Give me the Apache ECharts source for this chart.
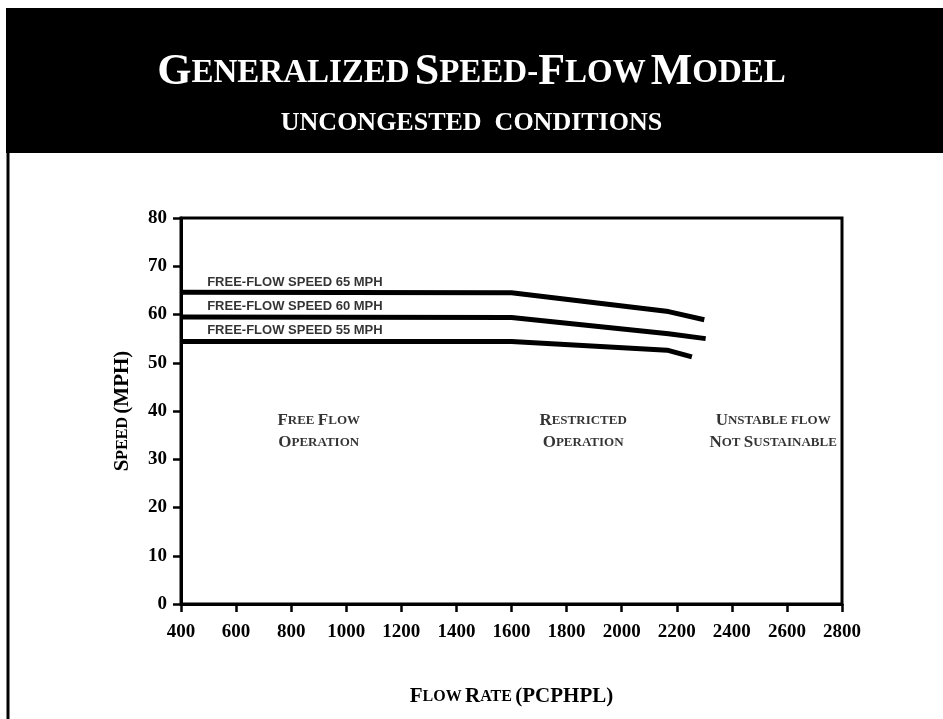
<!DOCTYPE html>
<html>
<head>
<meta charset="utf-8">
<script src="https://cdn.jsdelivr.net/npm/echarts@6/dist/echarts.min.js"></script>
<style>
  html, body { margin: 0; padding: 0; background: #fff; }
  #chart { width: 943px; height: 719px; }
</style>
</head>
<body>
<div id="chart"></div>
<script>
// axis ranges (flow in pcphpl, speed in mph)
const flowMin = 400, flowMax = 2800, flowStep = 200
const speedMin = 0, speedMax = 80, speedStep = 10

// speed-flow curves: [flow, speed]
const speed65 = [[400, 64.6], [1600, 64.5], [2170, 60.6], [2300, 58.9]]
const speed60 = [[400, 59.5], [1600, 59.4], [2170, 56.0], [2305, 55.0]]
const speed55 = [[400, 54.4], [1600, 54.4], [2165, 52.6], [2255, 51.2]]

// curve captions, placed above the flat part of each line
const curveLabels = ['FREE-FLOW SPEED 65 MPH', 'FREE-FLOW SPEED 60 MPH', 'FREE-FLOW SPEED 55 MPH']
const curveLabelPos = [[495, 66.7], [495, 61.7], [495, 56.7]]

// operating regions
const regionLabels = [
	'{b|F}{s|REE} {b|F}{s|LOW}\n{b|O}{s|PERATION}',
	'{b|R}{s|ESTRICTED}\n{b|O}{s|PERATION}',
	'{b|U}{s|NSTABLE FLOW}\n{b|N}{s|OT} {b|S}{s|USTAINABLE}'
]
const regionPos = [[900, 35.7], [1860, 35.7], [2550, 35.7]]

const serif = '"Liberation Serif", "DejaVu Serif", serif'
const smallCaps = {
	b: { fontFamily: serif, fontWeight: 'bold', fontSize: 17, color: '#000' },
	s: { fontFamily: serif, fontWeight: 'bold', fontSize: 13, color: '#000' }
}
const axisTitleCaps = {
	b: { fontFamily: serif, fontWeight: 'bold', fontSize: 21, color: '#000' },
	s: { fontFamily: serif, fontWeight: 'bold', fontSize: 16, color: '#000' }
}

const chart = echarts.init(document.getElementById('chart'))

const lineSeries = (name, data) => ({
	name: name,
	type: 'line',
	data: data,
	symbol: 'none',
	silent: true,
	lineStyle: { color: '#000', width: 5 }
})

const option = {
	backgroundColor: '#fff',
	animation: false,
	title: [
		{
			text: '{b|G}{s|ENERALIZED} {b|S}{s|PEED-}{b|F}{s|LOW} {b|M}{s|ODEL}',
			left: 'center',
			top: 46,
			textStyle: {
				rich: {
					b: { fontFamily: serif, fontSize: 44, color: '#fff' },
					s: { fontFamily: serif, fontSize: 33, color: '#fff' }
				}
			}
		},
		{
			text: 'UNCONGESTED  CONDITIONS',
			left: 'center',
			top: 105,
			textStyle: { fontFamily: serif, fontSize: 26, fontWeight: 'bold', color: '#fff' }
		}
	],
	graphic: [
		{ type: 'rect', z: -1, shape: { x: 6, y: 8, width: 940, height: 145 }, style: { fill: '#000' } },
		{ type: 'line', shape: { x1: 8, y1: 150, x2: 8, y2: 719 }, style: { stroke: '#000', lineWidth: 3 } }
	],
	grid: {
		left: 181,
		right: 101,
		top: 218,
		bottom: 115,
		show: true,
		borderColor: '#000',
		borderWidth: 3
	},
	xAxis: {
		type: 'value',
		min: flowMin,
		max: flowMax,
		interval: flowStep,
		name: '{b|F}{s|LOW} {b|R}{s|ATE} {b|(PCPHPL)}',
		nameLocation: 'middle',
		nameGap: 82,
		nameTextStyle: { rich: axisTitleCaps },
		axisLine: { lineStyle: { color: '#000', width: 3 } },
		axisTick: { length: 8, lineStyle: { color: '#000', width: 2.5 } },
		axisLabel: { color: '#000', fontFamily: serif, fontWeight: 'bold', fontSize: 19, margin: 19, formatter: (v) => String(v) },
		splitLine: { show: false }
	},
	yAxis: {
		type: 'value',
		min: speedMin,
		max: speedMax,
		interval: speedStep,
		name: '{b|S}{s|PEED} {b|(MPH)}',
		nameLocation: 'middle',
		nameGap: 48,
		nameRotate: 90,
		nameTextStyle: { rich: axisTitleCaps },
		axisLine: { show: true, lineStyle: { color: '#000', width: 3 } },
		axisTick: { show: true, length: 8, lineStyle: { color: '#000', width: 2.5 } },
		axisLabel: { color: '#000', fontFamily: serif, fontWeight: 'bold', fontSize: 19, margin: 14 },
		splitLine: { show: false }
	},
	series: [
		lineSeries('65', speed65),
		lineSeries('60', speed60),
		lineSeries('55', speed55),
		{
			type: 'scatter',
			symbolSize: 0,
			silent: true,
			data: curveLabelPos.map((p, i) => ({ value: p, name: curveLabels[i] })),
			label: {
				show: true,
				position: 'right',
				distance: 0,
				formatter: (p) => p.name,
				fontFamily: '"Liberation Sans", Arial, sans-serif',
				fontWeight: 'bold',
				fontSize: 13,
				color: '#000'
			}
		},
		{
			type: 'scatter',
			symbolSize: 0,
			silent: true,
			data: regionPos.map((p, i) => ({ value: p, name: regionLabels[i] })),
			label: {
				show: true,
				position: 'inside',
				align: 'center',
				verticalAlign: 'middle',
				lineHeight: 22,
				formatter: (p) => p.name,
				rich: smallCaps
			}
		}
	]
}

chart.setOption(option)
</script>
</body>
</html>
